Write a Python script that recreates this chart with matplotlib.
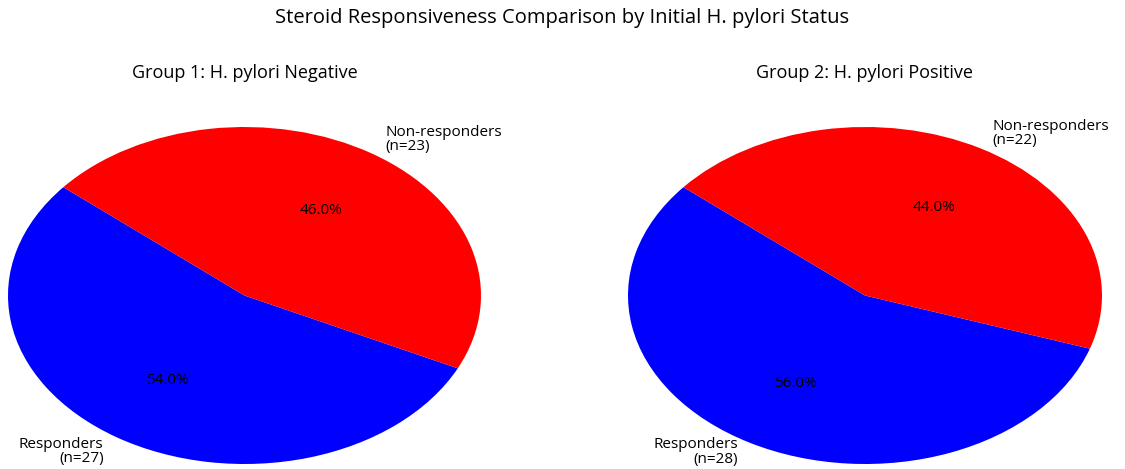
import matplotlib
matplotlib.use('Agg')
import matplotlib.pyplot as plt

plt.rcParams['font.family'] = ['Open Sans', 'DejaVu Sans']

# podatki
labels = ['Responders', 'Non-responders']
group1_counts = [27, 23]
group2_counts = [28, 22]
group_titles = ['Group 1: H. pylori Negative', 'Group 2: H. pylori Positive']
colors = ['#0000ff', '#ff0000']

fig = plt.figure(figsize=(11.25, 4.69), dpi=100)

# osi so postavljene rocno, da je pita raztegnjena kot v originalu
positions = [
    [8 / 1125, 5 / 469, 473 / 1125, 337 / 469],
    [628 / 1125, 5 / 469, 474 / 1125, 337 / 469],
]
title_x = [244.5 / 1125, 865 / 1125]

for pos, counts, title, tx in zip(positions, [group1_counts, group2_counts], group_titles, title_x):
    ax = fig.add_axes(pos)
    lab = ['%s\n(n=%d)' % (l, c) for l, c in zip(labels, counts)]
    wedges, texts, autotexts = ax.pie(counts, labels=lab, colors=colors, autopct='%1.1f%%',
                                      startangle=140, textprops={'fontsize': 11})
    for t in texts:
        t.set_linespacing(0.95)
        # spodnji label malo gor, da ni odrezan
        x, y = t.get_position()
        if y < -0.93:
            t.set_position((x, -0.93))
    ax.set_aspect('auto')
    ax.set_xlim(-1, 1)
    ax.set_ylim(-1, 1)
    fig.text(tx, 1 - 73 / 469, title, ha='center', va='center', fontsize=13)

fig.text(0.5, 1 - 18 / 469, 'Steroid Responsiveness Comparison by Initial H. pylori Status',
         ha='center', va='center', fontsize=14.5)

plt.savefig('out.png', dpi=100)
